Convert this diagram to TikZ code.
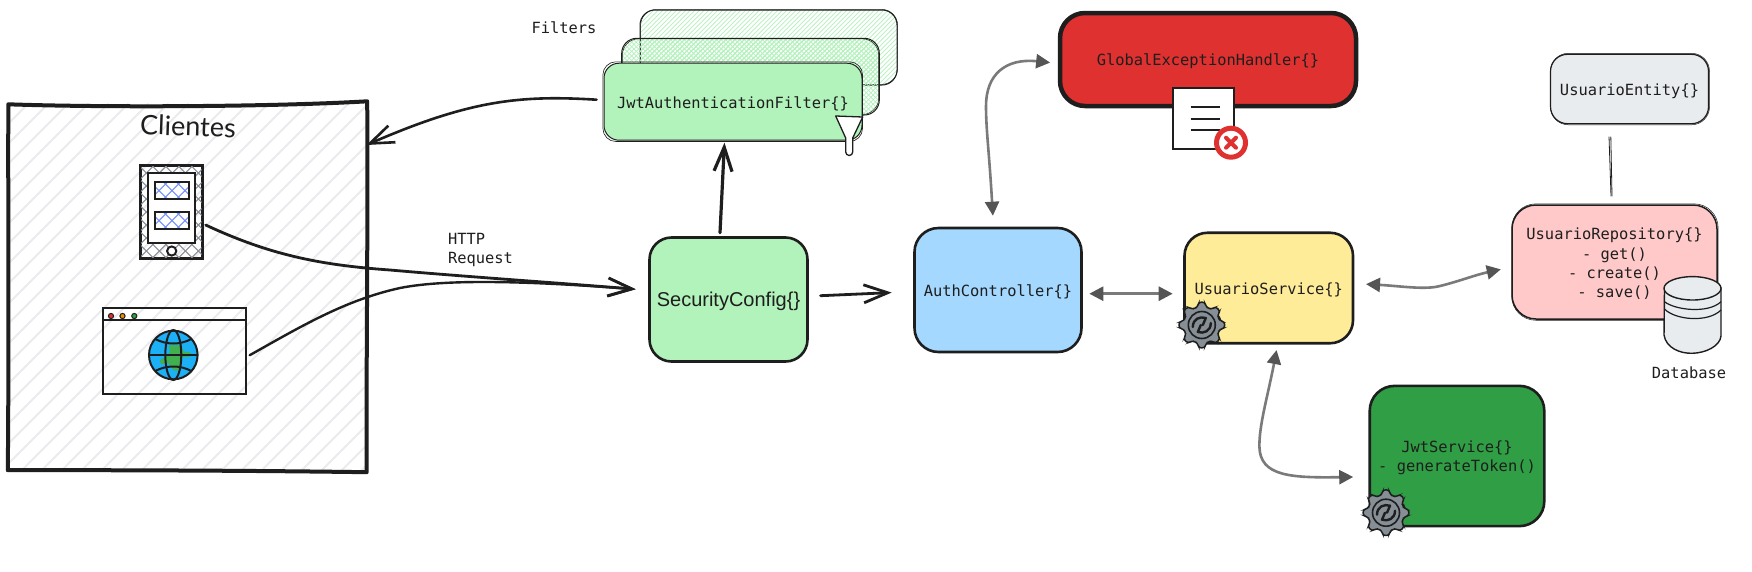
\documentclass[tikz,border=0pt]{standalone}
\usepackage{fontspec}
\setmonofont{DejaVu Sans Mono}
\setsansfont{Liberation Sans}
\newfontfamily\handfont{Lato}
\usetikzlibrary{arrows.meta,calc}
\definecolor{ink}{HTML}{1E1E1E}
\definecolor{mint}{HTML}{B2F2BB}
\definecolor{skyfill}{HTML}{A5D8FF}
\definecolor{butter}{HTML}{FFEC99}
\definecolor{rosefill}{HTML}{FFC9C9}
\definecolor{leaf}{HTML}{2F9E44}
\definecolor{alarm}{HTML}{E03131}
\definecolor{mist}{HTML}{E9ECEF}
\definecolor{steel}{HTML}{868E96}
\definecolor{periw}{HTML}{748FFC}
\definecolor{amber}{HTML}{F08C00}
\definecolor{globeblue}{HTML}{1CB0F6}
\definecolor{globegreen}{HTML}{40B050}
\definecolor{wire}{HTML}{7A7A7A}
\definecolor{wirehead}{HTML}{555555}
\newcommand{\lifted}{\rule{0pt}{15.5pt}}
\tikzset{
  monotext/.style={font={\fontsize{15.4}{19.2}\selectfont\ttfamily},text=ink},
  box/.style={draw=ink,rounded corners=#1,inner sep=0pt,align=center,monotext},
  label/.style={inner sep=0pt,align=left,monotext},
  barbline/.style={draw=ink,line cap=round,shorten >=-3pt,-{Straight Barb[length=24pt,width=18pt]}},
  twoway/.style={draw=wire,line width=2.6pt,line cap=round,shorten >=-3pt,shorten <=-3pt,
    {Triangle[length=14pt,width=14pt,color=wirehead]}-{Triangle[length=14pt,width=14pt,color=wirehead]}},
}
% hachure: x1 y1 x2 y2 radius step colour width ; direction in \hatchdir
\newcommand{\hatchdir}{1}
\newcommand{\hatchfill}[8]{%
  \begin{scope}
    \clip[rounded corners=#5] (#1,#2) rectangle (#3,#4);
    \pgfmathsetmacro\hatchH{#4-#2}
    \pgfmathsetmacro\hatchA{\hatchdir>0 ? #1-\hatchH : #1}
    \pgfmathsetmacro\hatchB{\hatchA+#6}
    \pgfmathsetmacro\hatchC{\hatchdir>0 ? #3 : #3+\hatchH}
    \foreach \c in {\hatchA,\hatchB,...,\hatchC}
      \draw[color=#7,line width=#8] (\c,#4) -- ++({\hatchdir*\hatchH},-\hatchH);
  \end{scope}}
% second, thin pencil stroke inside the box outline
\newcommand{\pencil}[3]{%
  \draw[ink,line width=#3,rounded corners=#2]
    ($(#1.north west)+(.5,-.4)$) rectangle ($(#1.south east)+(.4,.5)$);}
\newcommand{\gearicon}[2]{%
  \begin{scope}[shift={(#1,#2)}]
    \draw[ink,fill=steel,line width=1.5pt,rounded corners=2.5pt]
      (-13:18.5) \foreach \a in {0,45,...,315}{
        -- ({\a-13}:18.5) -- ({\a-8}:23) -- ({\a+8}:23) -- ({\a+13}:18.5)} -- cycle;
    \draw[ink,line width=1.6pt] (0,0) circle (13.5);
    \draw[ink,line width=2.4pt,line cap=round,line join=round]
      (-9,2) .. controls (-9,-6) and (-2,-9) .. (4,-7) -- (1,0);
    \draw[ink,line width=2.4pt,line cap=round,line join=round]
      (9,-2) .. controls (9,6) and (2,9) .. (-4,7) -- (-1,0);
  \end{scope}}
\begin{document}
\begin{tikzpicture}[x=1pt,y=-1pt]
\useasboundingbox (0,0) rectangle (1752,571);
\fill[white] (0,0) rectangle (1752,571);

% ---- Clientes frame
\hatchfill{8.5}{103.5}{367}{470.5}{0pt}{20}{mist}{1.9pt}
\node[minimum width=358.5pt,minimum height=367pt,inner sep=0pt] (clients) at (187.75,287) {};
\draw[ink,line width=4pt,line join=round]
  ($(clients.north west)+(0,1)$)
  .. controls (100,107.5) and (270,107) .. ($(clients.north east)+(0,-2)$)
  .. controls (368,250) and (366,380) .. ($(clients.south east)+(-.5,1.5)$)
  .. controls (250,470.5) and (100,470) .. ($(clients.south west)+(-.5,-.5)$)
  .. controls (9,350) and (8,220) .. cycle;
\node[inner sep=0pt,rotate=-2,text=ink,font={\fontsize{27}{30}\selectfont\handfont}] (clientstitle) at (188,126) {Clientes};

% ---- phone
\node[draw=ink,line width=2pt,minimum width=61pt,minimum height=92.6pt,inner sep=0pt] (phone) at (171.2,212) {};
\renewcommand{\hatchdir}{1}
\hatchfill{140.7}{165.7}{201.7}{258.3}{0pt}{13}{steel}{1.1pt}
\renewcommand{\hatchdir}{-1}
\hatchfill{140.7}{165.7}{201.7}{258.3}{0pt}{13}{steel}{1.1pt}
\renewcommand{\hatchdir}{1}
\draw[ink,line width=2pt] (phone.north west) rectangle (phone.south east);
\draw[ink,fill=white,line width=2pt] (147.7,172.7) rectangle (195.3,243.3);
\hatchfill{154.7}{182}{188.7}{199.3}{0pt}{13}{periw}{1.1pt}
\hatchfill{154.7}{212}{188.7}{229.3}{0pt}{13}{periw}{1.1pt}
\renewcommand{\hatchdir}{-1}
\hatchfill{154.7}{182}{188.7}{199.3}{0pt}{13}{periw}{1.1pt}
\hatchfill{154.7}{212}{188.7}{229.3}{0pt}{13}{periw}{1.1pt}
\renewcommand{\hatchdir}{1}
\draw[ink,line width=2pt] (154.7,182) rectangle (188.7,199.3);
\draw[ink,line width=2pt] (154.7,212) rectangle (188.7,229.3);
\draw[ink,fill=white,line width=2pt] (171.7,251) circle (4.6);

% ---- browser
\node[draw=ink,line width=2pt,minimum width=143pt,minimum height=85.6pt,inner sep=0pt] (browser) at (174.2,351.2) {};
\draw[ink,line width=2.6pt] (102,320) -- (246,320);
\fill[alarm] (111,316) circle (2.6);  \draw[ink,line width=1pt] (111,316) circle (2.6);
\fill[amber] (122.5,316) circle (2.6);\draw[ink,line width=1pt] (122.5,316) circle (2.6);
\fill[leaf] (134.3,316) circle (2.6); \draw[ink,line width=1pt] (134.3,316) circle (2.6);
\begin{scope}[shift={(173.3,355)}]
  \fill[globeblue] (0,0) circle (24.3);
  \fill[globegreen,rounded corners=2.5pt] (-5,-10) -- (8,-10) -- (10,-3) -- (18,-3) -- (18,2) -- (8,2)
    -- (7,12) -- (3,17) -- (-3,12) -- (-5,7) -- (-12,10) -- (-14,5) -- (-7,2) -- (-3,-3) -- cycle;
  \draw[ink,line width=2pt] (0,0) circle (24.3);
  \draw[ink,line width=2pt] (0,0) ellipse (8 and 25);
  \draw[ink,line width=2pt] (-25,0) -- (25,0);
  \draw[ink,line width=2pt] (-18,-16) .. controls (-7,-10) and (7,-10) .. (18,-16);
  \draw[ink,line width=2pt] (-18,16) .. controls (-7,10) and (7,10) .. (18,16);
\end{scope}

% ---- filter stack
\hatchfill{640}{10}{897}{85}{15pt}{4.6}{mint}{.7pt}
\draw[ink,line width=1pt,rounded corners=15pt] (640,10) rectangle (897,85);
\draw[ink,line width=.5pt,rounded corners=16pt] (640.6,9.4) rectangle (897.6,84.4);
\hatchfill{621.7}{38.3}{879.3}{115}{15pt}{4.6}{mint}{.7pt}
\renewcommand{\hatchdir}{-1}
\hatchfill{621.7}{38.3}{879.3}{115}{15pt}{4.6}{mint}{.7pt}
\renewcommand{\hatchdir}{1}
\draw[ink,line width=1pt,rounded corners=15pt] (621.7,38.3) rectangle (879.3,115);
\draw[ink,line width=.5pt,rounded corners=16pt] (622.4,38.9) rectangle (878.6,114.4);
\node[box=15pt,fill=mint,line width=1pt,minimum width=258pt,minimum height=77pt] (jwtfilter) at (733,101.7) {\lifted JwtAuthenticationFilter\{\}};
\draw[ink,line width=.6pt,rounded corners=13pt] ($(jwtfilter.north west)+(-.6,-.9)$) rectangle ($(jwtfilter.south east)+(0,.8)$);
\draw[ink,fill=white,line width=1.3pt,line join=round]
  (835.7,116) -- (862.7,117) -- (852.7,138) -- (852.7,152)
  arc[start angle=0,end angle=180,x radius=3.5,y radius=3.5] -- (845.7,138) -- cycle;

\node[label] (filterslabel) at (564,27.7) {Filters};
\node[label,anchor=west] (httplabel) at (447.8,250.3) {HTTP\\Request};

% ---- boxes
\node[box=22pt,fill=mint,line width=2.6pt,minimum width=158pt,minimum height=124pt,
      font={\fontsize{20}{24}\selectfont\sffamily}] (sec) at (728.5,299.5) {\rule{0pt}{19pt}SecurityConfig\{\}};
\node[box=24pt,fill=skyfill,line width=2.6pt,minimum width=167pt,minimum height=124pt] (auth) at (998,290) {\lifted AuthController\{\}};
\node[box=23pt,fill=butter,line width=2.6pt,minimum width=168.5pt,minimum height=110.5pt] (usuario) at (1268.75,288) {\lifted UsuarioService\{\}};
\node[box=25pt,fill=leaf,line width=2.6pt,minimum width=174.6pt,minimum height=140.3pt] (jwt) at (1457,456) {\lifted JwtService\{\}\\- generateToken()};
\node[box=24pt,fill=rosefill,line width=1.5pt,minimum width=205pt,minimum height=114pt] (repo) at (1614.5,262) {\lifted UsuarioRepository\{\}\\- get()\\- create()\\- save()};
\node[box=17pt,fill=mist,line width=1.2pt,minimum width=158pt,minimum height=69.4pt] (entity) at (1629.5,89) {\lifted UsuarioEntity\{\}};
\node[box=25pt,fill=alarm,line width=4.5pt,minimum width=296pt,minimum height=93pt] (handler) at (1208,59.5) {\lifted GlobalExceptionHandler\{\}};
\pencil{repo}{24pt}{.5pt}
\pencil{entity}{18pt}{.5pt}

% ---- icons on boxes
\gearicon{1201.8}{325}
\gearicon{1386}{512.7}

\draw[ink,fill=white,line width=2pt] (1173.3,88.3) rectangle (1234.3,149.3);
\draw[ink,line width=2pt] (1190.7,107.3) -- (1220,107.3);
\draw[ink,line width=2pt] (1190.7,118.7) -- (1220,118.7);
\draw[ink,line width=2pt] (1190.7,130) -- (1220,130);
\draw[alarm,fill=white,line width=5pt] (1231,142.7) circle (14.5);
\draw[alarm,line width=4pt,line cap=round] (1226,137.7) -- (1236,147.7);
\draw[alarm,line width=4pt,line cap=round] (1236,137.7) -- (1226,147.7);

% ---- database
\draw[ink,fill=mist,line width=1.4pt] (1664.5,288) -- (1664,335)
  .. controls (1666,348) and (1680,353.5) .. (1692,353.3)
  .. controls (1706,353) and (1720,346) .. (1721,336) -- (1721,288) -- cycle;
\draw[ink,fill=mist,line width=1.4pt] (1692.5,288.3) ellipse (28.5 and 11.7);
\draw[ink,line width=1.2pt] (1664.5,301.7) .. controls (1675,310) and (1708,314) .. (1721,301.7);
\draw[ink,line width=1.2pt] (1664.5,309) .. controls (1675,320) and (1708,323) .. (1721,310);
\node[label] (dblabel) at (1689,372.7) {Database};

% ---- connectors
\draw[barbline,line width=2.6pt] ($(jwtfilter.west)+(-7,-2)$)
  .. controls (520,95) and (470,100) .. ($(clients.north east)+(2,40.5)$);
\draw[barbline,line width=2.8pt] ($(phone.east)+(3,13)$)
  .. controls (270,255) and (320,265) .. (390,270)
  .. controls (470,277) and (560,283) .. ($(sec.west)+(-15.5,-10.5)$);
\draw[barbline,line width=2.4pt] ($(browser.east)+(3,4)$)
  .. controls (300,327) and (345,300) .. (400,288)
  .. controls (450,278) and (540,282) .. ($(sec.west)+(-15.5,-10.5)$);
\draw[barbline,line width=3.2pt] ($(sec.north)+(-8.5,-3.5)$) -- ($(jwtfilter.south)+(-8.7,5)$);
\draw[barbline,line width=2.8pt] ($(sec.east)+(11.8,-3.8)$) -- ($(auth.west)+(-24.5,2.7)$);
\draw[twoway] ($(auth.north)+(-5.3,-14)$)
  .. controls (989,150) and (986,130) .. (986,106)
  .. controls (986,75) and (1005,58) .. ($(handler.west)+(-10.6,2.8)$);
\draw[twoway] ($(auth.east)+(9.5,3.7)$) -- ($(usuario.west)+(-13.5,5.7)$);
\draw[twoway] ($(usuario.east)+(14.7,-3.7)$)
  .. controls (1400,286) and (1425,290) .. (1440,286)
  .. controls (1460,281) and (1475,275) .. ($(repo.west)+(-13.4,8)$);
\draw[twoway] ($(usuario.south)+(7.25,8.45)$)
  .. controls (1268,395) and (1259,425) .. (1259.4,446.7)
  .. controls (1260,476) and (1290,478) .. ($(jwt.west)+(-18.2,21)$);
\draw[ink,line width=.8pt] ($(entity.south)+(-20.5,12.3)$) -- ($(repo.north)+(-3.5,-8)$);
\draw[ink,line width=.8pt] ($(entity.south)+(-18.7,12.3)$) -- ($(repo.north)+(-2.5,-8)$);
\end{tikzpicture}
\end{document}
